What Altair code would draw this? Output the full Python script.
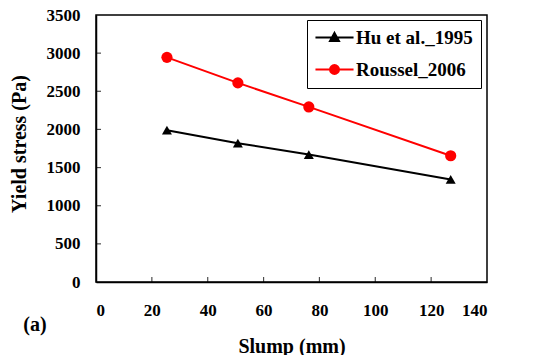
import altair as alt
import pandas as pd

# ---- data ----
slump_mm = [25.4, 50.8, 76.2, 127.0]
hu_1995 = [1990, 1820, 1670, 1345]
roussel_2006 = [2945, 2610, 2295, 1655]
series_names = ["Hu et al._1995", "Roussel_2006"]
series_colors = ["#000000", "#ff0000"]
x_tick_values = [0, 20, 40, 60, 80, 100, 120, 140]
y_tick_values = [0, 500, 1000, 1500, 2000, 2500, 3000, 3500]
panel_label = ["(a)"]

FONT = "Liberation Serif"
W, H = 391, 267

df = pd.DataFrame({
    "slump": slump_mm * 2,
    "stress": hu_1995 + roussel_2006,
    "series": [series_names[0]] * len(slump_mm) + [series_names[1]] * len(slump_mm),
})

xscale = alt.Scale(domain=[0, 140], nice=False, zero=False)
yscale = alt.Scale(domain=[0, 3500], nice=False)

x_axis = alt.Axis(values=x_tick_values, title="Slump (mm)", ticks=False, tickSize=0, format="d",
                  labelPadding=33, labelBaseline="alphabetic",
                  titleY=70, titleBaseline="alphabetic")
y_axis = alt.Axis(values=y_tick_values, title="Yield stress (Pa)", ticks=False, tickSize=0, format="d",
                  labelPadding=16, titleX=-71, titleY=H / 2 - 5,
                  titleBaseline="alphabetic")
x_enc = alt.X("slump:Q", scale=xscale, axis=x_axis)
y_enc = alt.Y("stress:Q", scale=yscale, axis=y_axis)

color_scale = alt.Scale(domain=series_names, range=series_colors)

lines = alt.Chart(df).mark_line(strokeWidth=2).encode(
    x=x_enc, y=y_enc,
    color=alt.Color("series:N", scale=color_scale, legend=None),
)

tri = alt.Chart(df).transform_filter(alt.datum.series == series_names[0]).mark_point(
    shape="triangle-up", filled=True, opacity=1, size=100, color=series_colors[0]
).encode(x=x_enc, y=y_enc)

circ = alt.Chart(df).transform_filter(alt.datum.series == series_names[1]).mark_point(
    shape="circle", filled=True, opacity=1, size=125, color=series_colors[1]
).encode(x=x_enc, y=y_enc)

# legend-only layer (no data rows) whose symbols combine line + marker
legend_paths = [
    "M-2.38,0H2.38M0,-0.58L0.56,0.44L-0.56,0.44Z",
    "M-2.38,0H2.38M-0.56,0A0.56,0.56,0,1,0,0.56,0A0.56,0.56,0,1,0,-0.56,0Z",
]
leg = alt.Legend(
    title=None, orient="none", legendX=211, legendY=5,
    strokeColor="black", fillColor="white", padding=8,
    labelFont=FONT, labelFontSize=19, labelFontWeight="bold", labelColor="black",
    labelOffset=12, symbolOffset=10, rowPadding=12, symbolSize=256, symbolStrokeWidth=2,
    labelLimit=300,
)
legend_layer = alt.Chart(df).transform_filter("false").mark_point(
    size=256, strokeWidth=2, opacity=1, filled=True
).encode(
    x=x_enc, y=y_enc,
    shape=alt.Shape("series:N", scale=alt.Scale(domain=series_names, range=legend_paths), legend=leg),
    fill=alt.Fill("series:N", scale=alt.Scale(domain=series_names, range=series_colors), legend=leg),
    stroke=alt.Stroke("series:N", scale=alt.Scale(domain=series_names, range=series_colors), legend=leg),
)

# inward-pointing ticks
xt = alt.Chart(pd.DataFrame({"slump": x_tick_values[1:-1]})).mark_tick(
    orient="vertical", size=5, thickness=1.2, color="black"
).encode(x=x_enc, y=alt.value(H - 2.5))

yt = alt.Chart(pd.DataFrame({"stress": y_tick_values[1:-1]})).mark_tick(
    orient="horizontal", size=5, thickness=1.2, color="black"
).encode(y=y_enc, x=alt.value(2.5))

label = alt.Chart(pd.DataFrame({"t": panel_label})).mark_text(
    font=FONT, fontSize=20, fontWeight="bold", color="black", align="center", baseline="alphabetic"
).encode(text="t:N", x=alt.value(-61), y=alt.value(316))

chart = alt.layer(lines, tri, circ, legend_layer, xt, yt, label).resolve_scale(
    shape="independent", fill="independent", stroke="independent", color="independent"
).properties(
    width=W, height=H,
    autosize=alt.AutoSizeParams(type="none"),
    padding={"left": 88, "top": 7, "right": 55, "bottom": 73},
    background="white",
).configure_view(
    stroke="black", strokeWidth=1.5
).configure_axis(
    grid=False, domainColor="black", domainWidth=1.5,
    labelFont=FONT, labelFontSize=17, labelFontWeight="bold", labelColor="black",
    titleFont=FONT, titleFontSize=20, titleFontWeight="bold", titleColor="black",
)

chart.save("out.html", embed_options={"renderer": "svg", "actions": False})
